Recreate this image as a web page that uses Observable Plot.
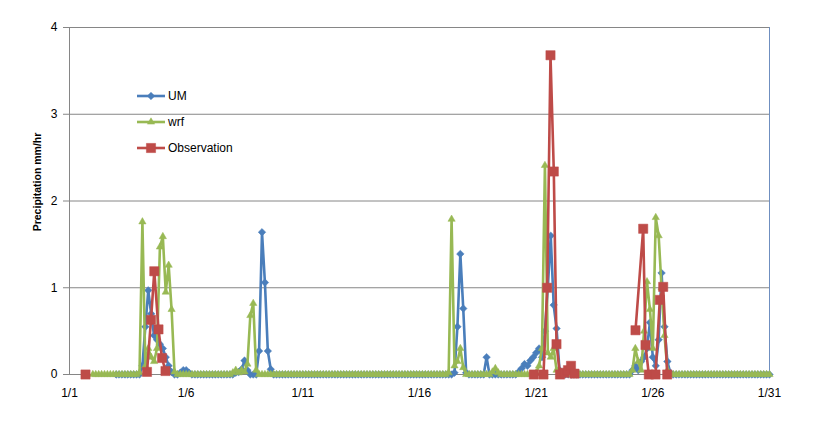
<!DOCTYPE html>
<html>
<head>
<meta charset="utf-8">
<script src="https://cdn.jsdelivr.net/npm/d3@7"></script>
<script src="https://cdn.jsdelivr.net/npm/@observablehq/plot@0.6"></script>
<style>
  html, body { margin: 0; padding: 0; background: #fff; }
  #wrap { position: relative; width: 821px; height: 423px; font-family: "Liberation Sans", Arial, sans-serif; }
  #ytitle { position: absolute; left: 37px; top: 182px; transform: translate(-50%, -50%) rotate(-90deg);
            font-weight: bold; font-size: 10.5px; white-space: nowrap; color: #000; }
  #legend { position: absolute; left: 137px; top: 83px; font-size: 12px; color: #000; }
  .item { display: flex; align-items: center; height: 26px; }
  .item svg { margin-right: 3px; }
</style>
</head>
<body>
<div id="wrap">
  <div id="ytitle">Precipitation mm/hr</div>
  <div id="legend"></div>
</div>
<script>
// ---- data ----
const tickDays = [1, 6, 11, 16, 21, 26, 31];
const tickLabels = ["1/1", "1/6", "1/11", "1/16", "1/21", "1/26", "1/31"];
const yTicks = [0, 1, 2, 3, 4];
const seriesNames = ["UM", "wrf", "Observation"];
const seriesColors = ["#4A7EBB", "#98B954", "#BE4B48"];

// model output: 3-hourly steps, one row per day
const stepsPerDay = 8;
const umStartStep = 16;   // 1/3 00:00
const umValues = [
  0,0,0,0,0,0,0,0,                        // 1/3
  0,0.1,0.55,0.97,0.7,0.45,0.4,0.35,      // 1/4
  0.3,0.2,0.1,0.03,0,0,0.02,0.05,         // 1/5
  0.05,0.02,0,0,0,0,0,0,                  // 1/6
  0,0,0,0,0,0,0,0,                        // 1/7
  0,0.02,0.03,0.06,0.16,0.05,0,0,         // 1/8
  0,0.27,1.64,1.06,0.27,0.06,0,0,         // 1/9
  0,0,0,0,0,0,0,0,                        // 1/10
  0,0,0,0,0,0,0,0,                        // 1/11
  0,0,0,0,0,0,0,0,                        // 1/12
  0,0,0,0,0,0,0,0,                        // 1/13
  0,0,0,0,0,0,0,0,                        // 1/14
  0,0,0,0,0,0,0,0,                        // 1/15
  0,0,0,0,0,0,0,0,                        // 1/16
  0,0,0,0,0.02,0.55,1.39,0.76,            // 1/17
  0.02,0,0,0,0,0,0,0.2,                   // 1/18
  0,0,0,0,0,0,0,0,                        // 1/19
  0,0,0.03,0.07,0.12,0.1,0.16,0.2,        // 1/20
  0.25,0.3,0.2,0.5,1.0,1.6,0.8,0.53,      // 1/21
  0.05,0,0,0,0,0,0,0,                     // 1/22
  0,0,0,0,0,0,0,0,                        // 1/23
  0,0,0,0,0,0,0,0,                        // 1/24
  0,0.05,0.1,0.05,0.15,0.2,0.3,0.6,       // 1/25
  0.2,0.1,0.4,1.17,0.55,0.15,0.02,0,      // 1/26
  0,0,0,0,0,0,0,0,                        // 1/27
  0,0,0,0,0,0,0,0,                        // 1/28
  0,0,0,0,0,0,0,0,                        // 1/29
  0,0,0,0,0,0,0,0,                        // 1/30
  0                                       // 1/31
];
const wrfStartStep = 8;   // 1/2 00:00
const wrfValues = [
  0,0,0,0,0,0,0,0,                        // 1/2
  0,0,0,0,0,0,0,0,                        // 1/3
  0.02,1.76,0.1,0.3,0.2,0.15,0.3,1.47,    // 1/4
  1.59,0.95,1.26,0.75,0.03,0,0,0,         // 1/5
  0,0,0,0,0,0,0,0,                        // 1/6
  0,0,0,0,0,0,0,0,                        // 1/7
  0.02,0.05,0.02,0.05,0.03,0.12,0.68,0.82,// 1/8
  0.05,0,0,0,0,0,0,0,                     // 1/9
  0,0,0,0,0,0,0,0,                        // 1/10
  0,0,0,0,0,0,0,0,                        // 1/11
  0,0,0,0,0,0,0,0,                        // 1/12
  0,0,0,0,0,0,0,0,                        // 1/13
  0,0,0,0,0,0,0,0,                        // 1/14
  0,0,0,0,0,0,0,0,                        // 1/15
  0,0,0,0,0,0,0,0,                        // 1/16
  0,0,0.02,1.79,0.1,0.15,0.3,0.08,        // 1/17
  0,0,0,0,0,0,0,0,                        // 1/18
  0,0.03,0.07,0.02,0,0,0,0,               // 1/19
  0,0,0,0,0,0,0,0,                        // 1/20
  0.02,0.1,0.3,2.41,0.25,0.2,0.3,0.05,    // 1/21
  0,0,0,0,0,0,0,0,                        // 1/22
  0,0,0,0,0,0,0,0,                        // 1/23
  0,0,0,0,0,0,0,0,                        // 1/24
  0,0.05,0.3,0.15,0.05,0.5,1.07,0.75,     // 1/25
  0.3,1.81,1.6,1.0,0.45,0.05,0,0,         // 1/26
  0,0,0,0,0,0,0,0,                        // 1/27
  0,0,0,0,0,0,0,0,                        // 1/28
  0,0,0,0,0,0,0,0,                        // 1/29
  0,0,0,0,0,0,0,0,                        // 1/30
  0                                       // 1/31
];

// observations: (day, value) grouped by event
const obsDays   = [1.686,
                   4.321, 4.493, 4.634, 4.814, 4.964, 5.114,
                   20.899, 21.314, 21.473, 21.614, 21.756, 21.871, 22.021, 22.214, 22.364, 22.493, 22.643,
                   25.257, 25.587, 25.686, 25.827, 26.114, 26.299, 26.444, 26.616];
const obsValues = [0,
                   0.03, 0.63, 1.19, 0.52, 0.19, 0.04,
                   0, 0, 1.0, 3.68, 2.34, 0.35, 0, 0.02, 0.05, 0.1, 0.01,
                   0.51, 1.68, 0.34, 0, 0, 0.86, 1.01, 0];
const obsEvent  = [1,
                   2, 2, 2, 2, 2, 2,
                   3, 3, 3, 3, 3, 3, 3, 3, 3, 3, 3,
                   4, 4, 4, 4, 4, 4, 4, 4];

// ---- build tables ----
const um = umValues.map((v, k) => ({t: 1 + (umStartStep + k) / stepsPerDay, v}));
const wrf = wrfValues.map((v, k) => ({t: 1 + (wrfStartStep + k) / stepsPerDay, v}));
const obs = obsDays.map((t, k) => ({t, v: obsValues[k], e: obsEvent[k]}));

const [cUM, cWRF, cOBS] = seriesColors;
const lw = 2.6;
const markerR = [3.4, 2.7, 5.2];

const chart = Plot.plot({
  width: 821,
  height: 423,
  marginLeft: 69,
  marginRight: 52,
  marginTop: 27,
  marginBottom: 49,
  style: {fontFamily: "Liberation Sans, Arial, sans-serif", fontSize: "12px", color: "#000", background: "#fff"},
  x: {type: "linear", domain: [tickDays[0], tickDays[tickDays.length - 1]]},
  y: {domain: [yTicks[0], yTicks[yTicks.length - 1]]},
  marks: [
    Plot.gridY(yTicks.slice(1, -1), {stroke: "#868686", strokeOpacity: 1}),
    Plot.frame({anchor: "top", stroke: "#868686"}),
    Plot.frame({anchor: "right", stroke: "#6f8fc0"}),
    Plot.frame({anchor: "left", stroke: "#868686"}),
    Plot.frame({anchor: "bottom", stroke: "#868686"}),
    Plot.axisY({ticks: yTicks, tickSize: 6, text: null, stroke: "#868686", label: null}),
    Plot.axisY({ticks: yTicks, tickSize: 0, tickPadding: 12, label: null, fill: "#000",
                tickFormat: d => String(d)}),
    Plot.axisX({ticks: tickDays, tickSize: 0, tickPadding: 14, label: null,
                tickFormat: d => tickLabels[tickDays.indexOf(d)], fill: "#000"}),
    // UM
    Plot.line(um, {x: "t", y: "v", stroke: cUM, strokeWidth: lw}),
    Plot.dot(um, {x: "t", y: "v", symbol: "diamond2", r: markerR[0], fill: cUM, stroke: cUM, strokeWidth: 0.5}),
    // wrf
    Plot.line(wrf, {x: "t", y: "v", stroke: cWRF, strokeWidth: lw}),
    Plot.dot(wrf, {x: "t", y: "v", symbol: "triangle", r: markerR[1], fill: cWRF, stroke: cWRF, strokeWidth: 0.5}),
    // Observation
    Plot.line(obs, {x: "t", y: "v", z: "e", stroke: cOBS, strokeWidth: lw}),
    Plot.dot(obs, {x: "t", y: "v", symbol: "square", r: markerR[2], fill: cOBS, stroke: cOBS, strokeWidth: 0.5})
  ]
});
document.getElementById("wrap").prepend(chart);

// ---- legend ----
const legend = document.getElementById("legend");
const symbols = [d3.symbolDiamond2, d3.symbolTriangle, d3.symbolSquare];
seriesNames.forEach((name, i) => {
  const item = document.createElement("div");
  item.className = "item";
  const w = 28, h = 12;
  const svg = d3.create("svg").attr("width", w).attr("height", h);
  svg.append("line").attr("x1", 0).attr("x2", w).attr("y1", h / 2).attr("y2", h / 2)
     .attr("stroke", seriesColors[i]).attr("stroke-width", lw);
  svg.append("path").attr("transform", `translate(${w / 2},${h / 2})`)
     .attr("d", d3.symbol(symbols[i], markerR[i] * markerR[i] * Math.PI)())
     .attr("fill", seriesColors[i]).attr("stroke", seriesColors[i]).attr("stroke-width", 0.5);
  item.appendChild(svg.node());
  const span = document.createElement("span");
  span.textContent = name;
  item.appendChild(span);
  legend.appendChild(item);
});
</script>
</body>
</html>
